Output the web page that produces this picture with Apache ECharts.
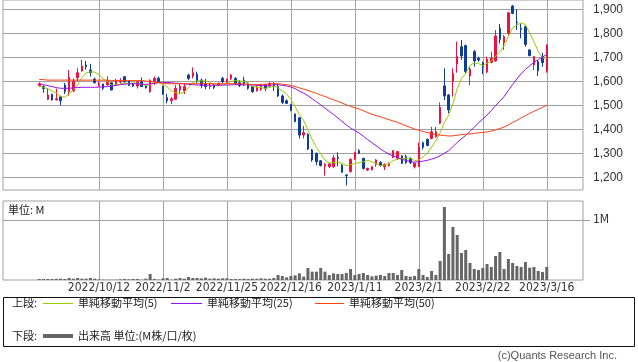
<!DOCTYPE html>
<html><head><meta charset="utf-8">
<script src="https://cdn.jsdelivr.net/npm/echarts@6/dist/echarts.min.js"></script>
<style>html,body{margin:0;padding:0;background:#fff}#c{width:638px;height:362px}</style>
</head><body><div id="c"></div>
<script>
const dates = [
'2022/9/20','2022/9/21','2022/9/22','2022/9/26','2022/9/27','2022/9/28','2022/9/29','2022/9/30',
'2022/10/3','2022/10/4','2022/10/5','2022/10/6','2022/10/7','2022/10/11','2022/10/12','2022/10/13','2022/10/14','2022/10/17','2022/10/18','2022/10/19','2022/10/20','2022/10/21','2022/10/24','2022/10/25','2022/10/26','2022/10/27','2022/10/28','2022/10/31',
'2022/11/1','2022/11/2','2022/11/4','2022/11/7','2022/11/8','2022/11/9','2022/11/10','2022/11/11','2022/11/14','2022/11/15','2022/11/16','2022/11/17','2022/11/18','2022/11/21','2022/11/22','2022/11/24','2022/11/25','2022/11/28','2022/11/29','2022/11/30',
'2022/12/1','2022/12/2','2022/12/5','2022/12/6','2022/12/7','2022/12/8','2022/12/9','2022/12/12','2022/12/13','2022/12/14','2022/12/15','2022/12/16','2022/12/19','2022/12/20','2022/12/21','2022/12/22','2022/12/23','2022/12/26','2022/12/27','2022/12/28','2022/12/29','2022/12/30',
'2023/1/4','2023/1/5','2023/1/6','2023/1/10','2023/1/11','2023/1/12','2023/1/13','2023/1/16','2023/1/17','2023/1/18','2023/1/19','2023/1/20','2023/1/23','2023/1/24','2023/1/25','2023/1/26','2023/1/27','2023/1/30','2023/1/31',
'2023/2/1','2023/2/2','2023/2/3','2023/2/6','2023/2/7','2023/2/8','2023/2/9','2023/2/10','2023/2/13','2023/2/14','2023/2/15','2023/2/16','2023/2/17','2023/2/20','2023/2/21','2023/2/22','2023/2/24','2023/2/27','2023/2/28',
'2023/3/1','2023/3/2','2023/3/3','2023/3/6','2023/3/7','2023/3/8','2023/3/9','2023/3/10','2023/3/13','2023/3/14','2023/3/15','2023/3/16'
];
const opens = [
1582,1578,1525,1546,1523,1536,1585,1557,1560,1615,
1643,1668,1647,1610,1585,1589,1585,1594,1589,1597,
1619,1601,1590,1580,1597,1583,1557,1599,1613,1580,
1532,1519,1525,1564,1560,1626,1622,1630,1605,1590,
1578,1585,1583,1612,1598,1612,1612,1594,1605,1592,
1578,1561,1567,1585,1580,1590,1578,1539,1519,1504,
1464,1448,1376,1379,1314,1300,1269,1248,1244,1244,
1283,1251,1210,1224,1275,1311,1279,1230,1231,1254,
1261,1244,1249,1283,1279,1289,1286,1279,1244,1244,
1344,1358,1362,1369,1425,1581,1543,1599,1672,1744,
1749,1622,1724,1696,1678,1640,1679,1685,1821,1762,
1800,1914,1847,1821,1828,1731,1668,1682,1703,1643
];
const closes = [
1590,1570,1543,1522,1527,1519,1558,1617,1600,1636,
1664,1661,1636,1594,1588,1571,1601,1564,1605,1600,
1598,1583,1580,1598,1578,1573,1605,1612,1598,1547,
1519,1527,1571,1580,1578,1612,1636,1601,1583,1578,
1582,1575,1590,1598,1609,1626,1590,1583,1590,1571,
1557,1575,1578,1571,1592,1583,1539,1512,1508,1478,
1432,1376,1386,1318,1272,1265,1249,1254,1256,1281,
1279,1221,1206,1275,1304,1300,1237,1237,1244,1272,
1251,1254,1258,1311,1307,1258,1261,1261,1258,1325,
1325,1332,1390,1390,1492,1539,1481,1633,1703,1706,
1640,1651,1685,1689,1661,1692,1696,1789,1775,1786,
1886,1883,1844,1817,1754,1707,1703,1644,1678,1751
];
const lows = [
1578,1552,1522,1520,1520,1500,1547,1540,1555,1600,
1640,1649,1620,1592,1578,1563,1583,1562,1585,1590,
1592,1580,1576,1570,1578,1570,1552,1585,1596,1544,
1508,1505,1522,1547,1547,1605,1612,1592,1571,1567,
1567,1567,1580,1592,1594,1605,1585,1576,1580,1565,
1552,1557,1560,1560,1575,1560,1535,1505,1505,1476,
1430,1362,1362,1313,1265,1250,1245,1207,1238,1238,
1246,1219,1166,1220,1272,1297,1233,1226,1229,1244,
1244,1230,1245,1279,1272,1255,1256,1255,1237,1243,
1315,1330,1358,1365,1421,1522,1467,1536,1636,1689,
1633,1585,1661,1682,1630,1633,1675,1682,1758,1731,
1792,1880,1814,1779,1744,1705,1647,1622,1661,1636
];
const highs = [
1596,1583,1572,1548,1570,1540,1593,1647,1612,1655,
1689,1685,1673,1615,1600,1589,1621,1596,1610,1613,
1622,1603,1594,1600,1616,1585,1608,1620,1620,1582,
1547,1535,1585,1590,1592,1632,1658,1640,1612,1610,
1592,1592,1595,1619,1612,1630,1617,1605,1619,1595,
1580,1585,1590,1590,1596,1596,1590,1545,1525,1506,
1466,1450,1414,1383,1318,1303,1272,1258,1260,1293,
1304,1254,1212,1278,1306,1317,1281,1240,1246,1276,
1268,1258,1262,1314,1310,1292,1294,1283,1262,1345,
1349,1362,1410,1410,1512,1654,1547,1654,1765,1772,
1753,1661,1731,1703,1682,1703,1724,1814,1839,1793,
1889,1918,1900,1842,1831,1733,1705,1689,1719,1754
];
// volume in millions
const volumes = [
0.017,0.017,0.017,0.017,0.020,0.022,0.017,0.033,0.022,0.033,
0.022,0.022,0.033,0.022,0.011,0.006,0.006,0.006,0.006,0.011,
0.017,0.011,0.017,0.017,0.006,0.022,0.100,0.017,0.006,0.028,
0.033,0.006,0.022,0.033,0.022,0.050,0.033,0.033,0.028,0.039,
0.022,0.028,0.022,0.028,0.028,0.017,0.017,0.017,0.022,0.017,
0.022,0.022,0.028,0.022,0.022,0.033,0.083,0.067,0.044,0.067,
0.078,0.111,0.056,0.200,0.139,0.139,0.200,0.139,0.083,0.111,
0.100,0.100,0.117,0.183,0.083,0.100,0.117,0.083,0.061,0.072,
0.083,0.067,0.117,0.117,0.083,0.167,0.067,0.056,0.067,0.183,
0.083,0.050,0.150,0.083,0.317,1.217,0.433,0.883,0.750,0.450,
0.500,0.283,0.183,0.167,0.200,0.267,0.217,0.400,0.467,0.183,
0.350,0.283,0.233,0.217,0.300,0.206,0.217,0.150,0.133,0.217
];
// moving-average values before a full window exists
const ma5Head = [1580,1575,1569,1560];
const ma25Head = [1590,1586,1582,1578,1574,1571,1571,1571,1573,1574,1575,1575,1575,1575,1576,1577,1578,1580,1583,1586,1588,1590,1590,1590];
const ma50Head = [1608,1607,1605,1605,1605,1605,1605,1605,1605,1605,1605,1605,1605,1605,1605,1605,1605,
1603,1603,1603,1603,1603,1603,1603,1603,1601,1599,1597,1595,1592,
1590,1590,1590,1590,1590,1590,1590,1590,1590,1590,1590,1590,1590,1590,1590,1590,1590,1590,1590];
const dateTicks = ['2022/10/12','2022/11/2','2022/11/25','2022/12/16','2023/1/11','2023/2/1','2023/2/22','2023/3/16'];
const priceTicks = [1200,1300,1400,1500,1600,1700,1800,1900];
const volumeTicks = [1];

const PAD = 8;
const cats = [];
for (let k = 0; k < PAD; k++) cats.push('s' + k);
dates.forEach(d => cats.push(d));
for (let k = 0; k < PAD; k++) cats.push('e' + k);

function sma(n, head) {
  return closes.map((c, i) => {
    if (i < n - 1) return head[i];
    let s = 0;
    for (let j = i - n + 1; j <= i; j++) s += closes[j];
    return s / n;
  });
}
const ma5 = sma(5, ma5Head), ma25 = sma(25, ma25Head), ma50 = sma(50, ma50Head);

const candleData = dates.map((d, i) => [i + PAD, opens[i], closes[i], lows[i], highs[i]]);
const volData = dates.map((d, i) => [i + PAD, volumes[i]]);
const lineData = arr => arr.map((v, i) => [i + PAD, v]);

const showCat = (idx, val) => dateTicks.indexOf(val) >= 0;
const gridColor = '#a0a0a0';
const LAT = '"Liberation Sans", Arial, sans-serif';
const COND = '"DejaVu Sans Condensed", "Liberation Sans Narrow", "Liberation Sans", sans-serif';
const JP = '"Noto Sans CJK JP", sans-serif';

function xAx(gi, labels) {
  return {
    type: 'category', gridIndex: gi, data: cats, boundaryGap: true,
    axisLine: {show: false}, axisTick: {show: false},
    axisLabel: {show: labels, interval: showCat, margin: 2, fontSize: 12, color: '#333', fontFamily: COND},
    splitLine: {show: true, interval: showCat, alignWithLabel: true, lineStyle: {color: gridColor, width: 1}}
  };
}

const chart = echarts.init(document.getElementById('c'), null, {renderer: 'canvas'});
chart.setOption({
  animation: false,
  backgroundColor: '#fff',
  grid: [
    {left: 3, top: 0, width: 580, height: 190, show: true, borderColor: gridColor, borderWidth: 1, containLabel: false},
    {left: 3, top: 201, width: 580, height: 79, show: true, borderColor: gridColor, borderWidth: 1, containLabel: false}
  ],
  xAxis: [xAx(0, false), xAx(1, true)],
  yAxis: [
    {type: 'value', gridIndex: 0, position: 'right', min: 1147, max: 1939, scale: true,
     axisLine: {show: false}, axisTick: {show: false, customValues: priceTicks},
     axisLabel: {customValues: priceTicks, margin: 10, fontSize: 12, color: '#333', fontFamily: LAT,
       formatter: v => (v % 100 === 0 ? v.toLocaleString('en-US') : '')},
     splitLine: {show: true, lineStyle: {color: gridColor}}},
    {type: 'value', gridIndex: 1, position: 'right', min: 0, max: 1.3167, interval: 1,
     axisLine: {show: false}, axisTick: {show: true, length: 7, customValues: volumeTicks, lineStyle: {color: gridColor}},
     axisLabel: {customValues: volumeTicks, margin: 10, fontSize: 12, color: '#333', fontFamily: COND,
       formatter: v => (v === 1 ? '1M' : '')},
     splitLine: {show: true, lineStyle: {color: gridColor}}}
  ],
  series: [
    {type: 'candlestick', xAxisIndex: 0, yAxisIndex: 0, data: candleData,
     encode: {x: 0, y: [1, 2, 3, 4]}, barWidth: 2,
     itemStyle: {color: '#f01040', color0: '#103c9c', borderColor: '#f01040', borderColor0: '#103c9c', borderWidth: 1}},
    {type: 'line', xAxisIndex: 0, yAxisIndex: 0, data: lineData(ma5), encode: {x: 0, y: 1}, symbol: 'none',
     lineStyle: {color: '#99cc00', width: 1}},
    {type: 'line', xAxisIndex: 0, yAxisIndex: 0, data: lineData(ma25), encode: {x: 0, y: 1}, symbol: 'none',
     lineStyle: {color: '#9911ee', width: 1}},
    {type: 'line', xAxisIndex: 0, yAxisIndex: 0, data: lineData(ma50), encode: {x: 0, y: 1}, symbol: 'none',
     lineStyle: {color: '#ff4010', width: 1}},
    {type: 'bar', xAxisIndex: 1, yAxisIndex: 1, data: volData, encode: {x: 0, y: 1}, barWidth: 3,
     itemStyle: {color: '#666666'}}
  ],
  graphic: [
    {type: 'text', left: 8, top: 204, style: {text: '単位: M', font: '11px ' + JP, fill: '#222'}},
    {type: 'rect', shape: {x: 3.5, y: 297.5, width: 631, height: 49}, style: {fill: 'none', stroke: '#111', lineWidth: 1}},
    {type: 'text', x: 12, y: 303, style: {text: '上段:', font: '11px ' + JP, fill: '#222', verticalAlign: 'middle'}},
    {type: 'line', shape: {x1: 43, y1: 303.5, x2: 73, y2: 303.5}, style: {stroke: '#99cc00', lineWidth: 1}},
    {type: 'text', x: 78, y: 303, style: {text: '単純移動平均(5)', font: '11px ' + JP, fill: '#222', verticalAlign: 'middle'}},
    {type: 'line', shape: {x1: 171, y1: 303.5, x2: 202, y2: 303.5}, style: {stroke: '#9911ee', lineWidth: 1}},
    {type: 'text', x: 207, y: 303, style: {text: '単純移動平均(25)', font: '11px ' + JP, fill: '#222', verticalAlign: 'middle'}},
    {type: 'line', shape: {x1: 315, y1: 303.5, x2: 344, y2: 303.5}, style: {stroke: '#ff4010', lineWidth: 1}},
    {type: 'text', x: 349, y: 303, style: {text: '単純移動平均(50)', font: '11px ' + JP, fill: '#222', verticalAlign: 'middle'}},
    {type: 'text', x: 12, y: 336, style: {text: '下段:', font: '11px ' + JP, fill: '#222', verticalAlign: 'middle'}},
    {type: 'line', shape: {x1: 43, y1: 336, x2: 73, y2: 336}, style: {stroke: '#666666', lineWidth: 4}},
    {type: 'text', x: 78, y: 336, style: {text: '出来高 単位:(M株/口/枚)', font: '11px ' + JP, fill: '#222', verticalAlign: 'middle'}},
    {type: 'text', x: 617, y: 356, style: {text: '(c)Quants Research Inc.', font: '11px ' + LAT, fill: '#555', align: 'right', verticalAlign: 'middle'}}
  ]
});
</script></body></html>
